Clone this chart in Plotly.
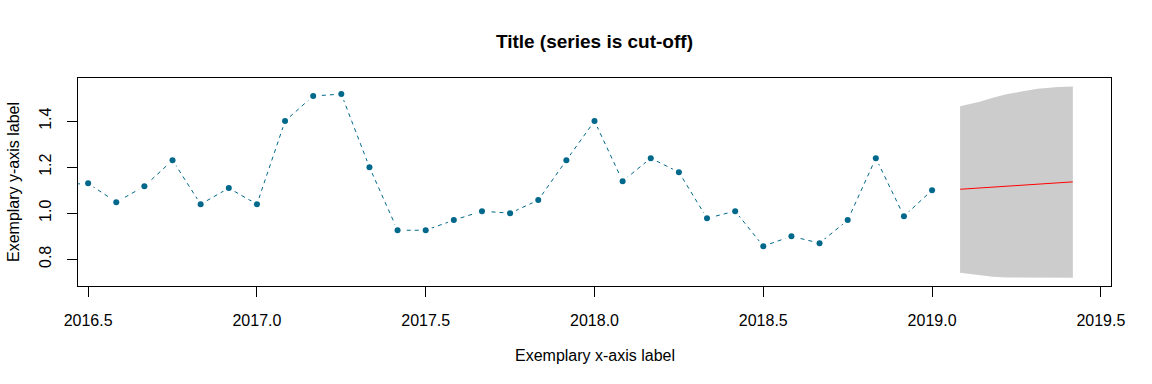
import plotly.graph_objects as go

# ---- data ----
hist_x = [2016 + 5/12 + i/12 for i in range(32)]  # monthly, 2016.417 .. 2019.0
hist_y = [1.122,
          1.130, 1.048, 1.117, 1.230, 1.039, 1.109,
          1.039, 1.400, 1.509, 1.517, 1.200, 0.926,
          0.926, 0.970, 1.009, 1.000, 1.057, 1.230,
          1.400, 1.139, 1.239, 1.178, 0.978, 1.009,
          0.857, 0.900, 0.870, 0.970, 1.239, 0.987,
          1.100]

fc_x = [2019 + 1/12, 2019 + 2/12, 2019 + 3/12, 2019 + 4/12, 2019 + 5/12]
fc_mean = [1.104, 1.112, 1.120, 1.128, 1.136]

band_x = [2019.083, 2019.106, 2019.141, 2019.180, 2019.220, 2019.269, 2019.313, 2019.373, 2019.417]
band_upper = [1.464, 1.472, 1.484, 1.501, 1.516, 1.529, 1.540, 1.548, 1.550]
band_lower = [0.742, 0.737, 0.730, 0.724, 0.721, 0.720, 0.720, 0.720, 0.720]

x_ticks = [2016.5, 2017.0, 2017.5, 2018.0, 2018.5, 2019.0, 2019.5]
y_ticks = [0.8, 1.0, 1.2, 1.4]

title_text = "Title (series is cut-off)"
x_label = "Exemplary x-axis label"
y_label = "Exemplary y-axis label"

LINE_COL = "#00688B"
FONT = "Liberation Sans, Arial, sans-serif"

fig = go.Figure()

# prediction band
fig.add_trace(go.Scatter(
    x=band_x + band_x[::-1],
    y=band_upper + band_lower[::-1],
    fill="toself", fillcolor="#CCCCCC",
    line=dict(width=0), mode="lines", hoverinfo="skip", showlegend=False))

# forecast mean
fig.add_trace(go.Scatter(
    x=fc_x, y=fc_mean, mode="lines",
    line=dict(color="#FF0000", width=1), showlegend=False))

# observed series: dashed line
fig.add_trace(go.Scatter(
    x=hist_x, y=hist_y, mode="lines",
    line=dict(color=LINE_COL, width=1, dash="4px,4px"), showlegend=False))

# white halo to emulate R type="b" gaps
fig.add_trace(go.Scatter(
    x=hist_x, y=hist_y, mode="markers",
    marker=dict(color="white", size=13, line=dict(width=0)), showlegend=False))

# points
fig.add_trace(go.Scatter(
    x=hist_x, y=hist_y, mode="markers",
    marker=dict(color=LINE_COL, size=6, line=dict(width=0)), showlegend=False))

axis_common = dict(
    showgrid=False, zeroline=False, showline=True, mirror=True,
    linecolor="black", linewidth=1, ticks="outside", ticklen=10,
    tickcolor="black", tickwidth=1, automargin=False,
    tickfont=dict(family=FONT, size=16, color="black"))

fig.update_layout(
    width=1152, height=384,
    margin=dict(l=78, r=41, t=78, b=98, autoexpand=False),
    paper_bgcolor="white", plot_bgcolor="white",
    font=dict(family=FONT, size=16, color="black"),
    title=dict(text="<b>" + title_text + "</b>", x=0.516, xanchor="center",
               yref="container", y=1 - 41/384, yanchor="middle",
               font=dict(family=FONT, size=19, color="black")),
    xaxis=dict(range=[2016.47, 2019.53], tickvals=x_ticks,
               ticktext=[f"{v:.1f}" for v in x_ticks],
               ticklabelstandoff=10, **axis_common),
    yaxis=dict(range=[0.684, 1.587], tickvals=y_ticks,
               ticktext=[f"{v:.1f}" for v in y_ticks],
               tickangle=-90, ticklabelstandoff=10, **axis_common),
    annotations=[
        dict(text=x_label, xref="paper", yref="paper", x=0.5,
             y=-(355 - 286) / 208, xanchor="center", yanchor="middle",
             showarrow=False, font=dict(family=FONT, size=16, color="black")),
        dict(text=y_label, xref="paper", yref="paper", x=-(78 - 13) / 1033,
             y=0.5, xanchor="center", yanchor="middle", textangle=-90,
             showarrow=False, font=dict(family=FONT, size=16, color="black")),
    ],
)

fig.write_html("out.html", config={"displayModeBar": False},
               post_script="document.body.style.margin='0';document.body.style.overflow='hidden';")
